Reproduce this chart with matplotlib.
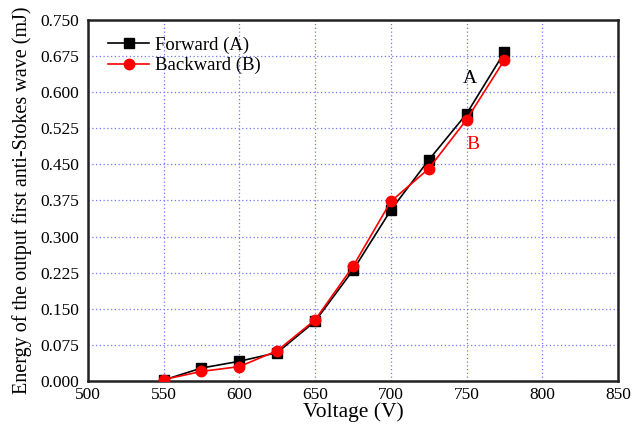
import matplotlib
matplotlib.use("Agg")
import matplotlib.pyplot as plt

voltage = [550, 575, 600, 625, 650, 675, 700, 725, 750, 775]
forward = [0.002, 0.027, 0.041, 0.059, 0.124, 0.230, 0.355, 0.459, 0.555, 0.683]
backward = [0.003, 0.020, 0.030, 0.063, 0.127, 0.238, 0.373, 0.441, 0.543, 0.667]
xticks = [500, 550, 600, 650, 700, 750, 800, 850]
yticks = [0.0, 0.075, 0.15, 0.225, 0.3, 0.375, 0.45, 0.525, 0.6, 0.675, 0.75]

plt.rcParams['font.family'] = ['Liberation Serif', 'DejaVu Serif']

fig = plt.figure(figsize=(6.32, 4.33), dpi=100)
ax = fig.add_axes([0.139, 0.120, 0.839, 0.834])

ax.plot(voltage, forward, color='black', marker='s', markersize=6.5, lw=1.2, label='Forward (A)', zorder=3)
ax.plot(voltage, backward, color='red', marker='o', markersize=7.5, lw=1.2, label='Backward (B)', zorder=4)

ax.set_xlim(500, 850)
ax.set_ylim(0, 0.75)
ax.set_xticks(xticks)
ax.set_yticks(yticks)
ax.set_yticklabels([f"{v:.3f}" for v in yticks])
ax.tick_params(axis='both', length=0, labelsize=12.5)
ax.tick_params(axis='x', pad=4)
ax.tick_params(axis='y', pad=6)
ax.grid(True, color='#7777ff', linestyle=(0, (1, 2)), lw=0.9)
for s in ax.spines.values():
    s.set_linewidth(1.8)
    s.set_color('#222222')

ax.set_xlabel('Voltage (V)', fontsize=15.5, labelpad=0)
ax.set_ylabel('Energy of the output first anti-Stokes wave (mJ)', fontsize=14.5, labelpad=6)

ax.text(752, 0.628, 'A', fontsize=14, color='black', ha='center', va='center')
ax.text(754, 0.491, 'B', fontsize=14, color='red', ha='center', va='center')

leg = ax.legend(loc='upper left', frameon=False, fontsize=13.5, handlelength=2.2,
                bbox_to_anchor=(0.01, 0.995), borderaxespad=0.4, handletextpad=0.3, labelspacing=0.15)

fig.savefig('out.png', dpi=100)
